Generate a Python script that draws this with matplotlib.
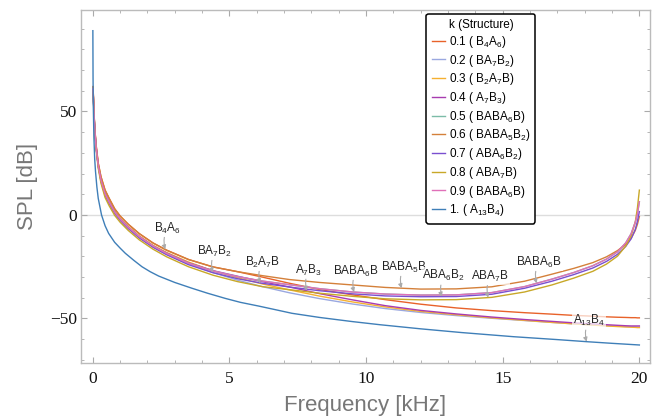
import matplotlib
matplotlib.use("Agg")
import matplotlib.pyplot as plt
import numpy as np

# ── Fonts ─────────────────────────────────────────────────────────────────────
plt.rcParams["font.family"] = ["Liberation Sans", "DejaVu Sans"]
plt.rcParams["mathtext.fontset"] = "custom"
plt.rcParams["mathtext.rm"] = "Liberation Sans"
plt.rcParams["mathtext.it"] = "Liberation Sans:italic"

# ── Data ──────────────────────────────────────────────────────────────────────
K_VALUES = ["0.1", "0.2", "0.3", "0.4", "0.5", "0.6", "0.7", "0.8", "0.9", "1."]
STRUCTURES = ["B$_4$A$_6$", "BA$_7$B$_2$", "B$_2$A$_7$B", "A$_7$B$_3$", "BABA$_6$B",
              "BABA$_5$B$_2$", "ABA$_6$B$_2$", "ABA$_7$B", "BABA$_6$B", "A$_{13}$B$_4$"]
COLORS = ["#E8622A", "#9AA8E0", "#F5B030", "#A83CB0", "#7CBCA8",
          "#D4803A", "#7A4FD0", "#C8A828", "#E070B8", "#3F7FB8"]

freq = [0.01, 0.03, 0.05, 0.08, 0.12, 0.2, 0.3, 0.45, 0.6, 0.8, 1.0, 1.3, 1.7,
        2.2, 2.7, 3.5, 4.4, 5.3, 6.2, 7.2, 8.3, 9.5, 10.7, 12.0, 13.3, 14.6,
        15.8, 16.8, 17.6, 18.3, 18.8, 19.2, 19.5, 19.7, 19.85, 19.93, 20.0]

spl_01 = [62, 55, 48, 41, 34, 25, 18.5, 12, 8, 3, -0.5, -4.5, -9, -13.5, -17,
          -21.5, -25.1, -27.4, -30.0, -33.0, -36.0, -38.6, -40.9, -43.1, -44.9,
          -46.2, -47.2, -47.9, -48.5, -48.9, -49.2, -49.4, -49.5, -49.6, -49.6,
          -49.7, -49.7]
spl_02 = [60.8, 53.8, 46.8, 39.8, 32.8, 23.5, 16.6, 9.8, 5.8, 1.1, -2.3, -6.3,
          -10.8, -15.3, -18.9, -23.6, -27.8, -31.5, -34.6, -37.6, -40.4, -43.0,
          -45.2, -47.1, -48.6, -49.9, -51.0, -51.9, -52.6, -53.1, -53.5, -53.7,
          -53.9, -54.0, -54.0, -54.1, -54.1]
spl_03 = [61.3, 54.3, 47.3, 40.3, 33.3, 24.1, 17.4, 10.7, 6.7, 1.9, -1.6, -5.6,
          -10.1, -14.6, -18.1, -22.7, -27.0, -30.3, -33.3, -36.2, -39.2, -42.0,
          -44.4, -46.6, -48.2, -49.7, -50.9, -51.9, -52.6, -53.2, -53.6, -53.9,
          -54.1, -54.2, -54.3, -54.4, -54.4]
spl_04 = [61.1, 54.1, 47.1, 40.1, 33.1, 23.9, 17.1, 10.4, 6.4, 1.6, -1.9, -5.9,
          -10.4, -14.9, -18.4, -23.1, -26.9, -29.6, -32.2, -34.8, -38.0, -41.0,
          -43.8, -46.1, -47.8, -49.3, -50.5, -51.4, -52.1, -52.6, -53.0, -53.3,
          -53.5, -53.6, -53.6, -53.6, -53.6]
spl_05 = [61, 54, 47, 40, 33, 23.8, 16.9, 10.2, 6.2, 1.4, -2.0, -6.0, -10.5,
          -15.0, -18.6, -23.3, -27.1, -29.8, -31.9, -33.7, -35.6, -37.2, -38.2,
          -38.7, -38.6, -37.5, -34.6, -31.0, -27.8, -24.5, -21.3, -17.8, -13.5,
          -9.0, -3.5, 0.5, 6.4]
spl_06 = [62, 55, 48, 41, 34, 25, 18.5, 12, 8, 3, -0.5, -4.5, -9, -13.5, -17,
          -21.5, -25.1, -27.4, -29.3, -31.2, -32.6, -33.8, -35.0, -35.8, -35.7,
          -34.7, -32.0, -28.6, -25.8, -23.0, -20.2, -17.2, -14.2, -11.2, -7.5,
          -4.5, -0.8]
spl_07 = [60.6, 53.6, 46.6, 39.6, 32.6, 23.3, 16.3, 9.5, 5.5, 0.8, -2.6, -6.6,
          -11.1, -15.6, -19.2, -24.0, -27.9, -30.8, -33.0, -34.8, -36.6, -38.1,
          -39.1, -39.5, -39.4, -38.3, -35.4, -32.0, -28.8, -25.6, -22.4, -19.0,
          -15.2, -11.5, -7.0, -3.0, 1.6]
spl_08 = [60, 53, 46, 39, 32, 22.5, 15.3, 8.4, 4.4, -0.2, -3.5, -7.5, -12, -16.5,
          -20.2, -25, -29.1, -32.2, -34.6, -36.1, -37.8, -39.3, -40.5, -41.0,
          -40.9, -39.8, -37.2, -33.8, -30.5, -27.2, -23.7, -19.9, -15.0, -10.0,
          -3.5, 3.5, 12.0]
spl_09 = spl_05  # same structure (BABA6B) as k = 0.5

freq_10 = [0.003, 0.01, 0.02, 0.04, 0.07, 0.1, 0.15, 0.2, 0.32, 0.45, 0.58, 0.8,
           1.0, 1.19, 1.5, 1.8, 2.1, 2.41, 3.0, 3.63, 4.2, 4.85, 5.4, 6.07, 6.7,
           7.29, 8.3, 9.5, 10.5, 12.0, 13.5, 15.4, 17.0, 18.07, 19.0, 20.0]
spl_10 = [89, 66, 52, 38, 27, 21, 13.5, 8, 0, -5.2, -8.9, -13.2, -16, -18.5,
          -21.9, -25, -27.4, -29.5, -32.6, -35.4, -37.8, -40.3, -42.2, -44,
          -45.8, -47.5, -49.5, -51.5, -53.0, -55.0, -56.8, -58.8, -60.2, -61.2,
          -62.0, -62.8]

SERIES = [spl_01, spl_02, spl_03, spl_04, spl_05, spl_06, spl_07, spl_08, spl_09, spl_10]
FREQS = [freq] * 9 + [freq_10]

# callout labels: text, curve index, frequency of arrow tip
CALLOUT_TEXT = ["B$_4$A$_6$", "BA$_7$B$_2$", "B$_2$A$_7$B", "A$_7$B$_3$", "BABA$_6$B",
                "BABA$_5$B", "ABA$_6$B$_2$", "ABA$_7$B", "BABA$_6$B", "A$_{13}$B$_4$"]
CALLOUT_CURVE = [0, 1, 2, 3, 4, 5, 6, 7, 8, 9]
CALLOUT_FREQ = [2.65, 4.39, 6.12, 7.83, 9.56, 11.3, 12.77, 14.47, 16.24, 18.07]

# ── Figure ────────────────────────────────────────────────────────────────────
fig = plt.figure(figsize=(6.62, 4.16), dpi=100, facecolor="white")
ax = fig.add_axes([0.1224, 0.1274, 0.8595, 0.8486])

ax.axhline(0, color="#dddddd", lw=1.0, zorder=1)

for i in range(len(SERIES)):
    ax.plot(FREQS[i], SERIES[i], color=COLORS[i], lw=1.0,
            label=f"{K_VALUES[i]} ( {STRUCTURES[i]})", zorder=2 + i * 0.1)

for txt, ci, fx in zip(CALLOUT_TEXT, CALLOUT_CURVE, CALLOUT_FREQ):
    fy = np.interp(fx, FREQS[ci], SERIES[ci])
    ax.annotate(txt, xy=(fx, fy), xytext=(1.5, 15), textcoords="offset points",
                ha="center", va="center", fontsize=8.5, color="#222222",
                bbox=dict(boxstyle="square,pad=0.1", fc="white", ec="none", alpha=0.7),
                arrowprops=dict(arrowstyle="-|>", color="#aaaaaa", lw=0.8,
                                mutation_scale=6, shrinkA=0, shrinkB=0,
                                connectionstyle="arc3,rad=0.2"),
                zorder=5)

ax.set_xlim(-0.43, 20.39)
ax.set_ylim(-71.5, 99.0)
ax.set_xticks([0, 5, 10, 15, 20])
ax.set_xticks(np.arange(0, 21, 1), minor=True)
ax.set_yticks([-50, 0, 50])
ax.set_yticks(np.arange(-70, 100, 10), minor=True)
ax.set_yticklabels(["\u221250", "0", "50"])

for sp in ax.spines.values():
    sp.set_color("#bbbbbb")
    sp.set_linewidth(1.0)
ax.tick_params(which="both", direction="in", top=True, right=True, color="#aaaaaa")
ax.tick_params(which="major", length=4, width=0.8)
ax.tick_params(which="minor", length=2, width=0.6)
ax.tick_params(axis="x", pad=6)
ax.tick_params(axis="y", pad=3)
for lab in ax.get_xticklabels() + ax.get_yticklabels():
    lab.set_fontfamily("Liberation Serif")
    lab.set_fontsize(12.5)
    lab.set_color("#111111")

ax.set_xlabel("Frequency [kHz]", fontsize=16, color="#777777")
ax.set_ylabel("SPL [dB]", fontsize=16, color="#777777")
ax.xaxis.set_label_coords(0.5, -0.09)
ax.yaxis.set_label_coords(-0.076, 0.5)

leg = ax.legend(loc="upper left", bbox_to_anchor=(0.607, 0.989), borderaxespad=0,
                title="k (Structure)", fontsize=8.5, title_fontsize=8.5,
                handlelength=1.1, handletextpad=0.35, labelspacing=0.23,
                borderpad=0.45, fancybox=True, framealpha=1)
leg.get_frame().set_edgecolor("black")
leg.get_frame().set_linewidth(1.1)

fig.savefig("out.png", dpi=100, facecolor="white")
